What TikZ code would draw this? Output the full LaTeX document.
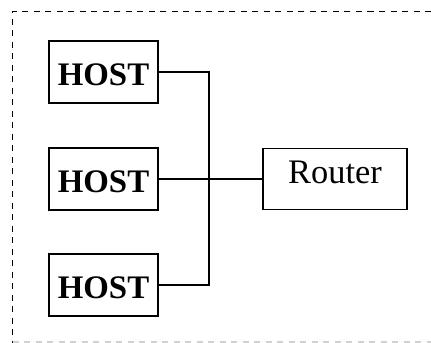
\documentclass[tikz,border=0pt]{standalone}
\usepackage{fontspec}
\setmainfont{Liberation Serif}
\begin{document}
\begin{tikzpicture}[x=1bp,y=-1bp,
  hostbox/.style={draw=black,line width=1.4bp,minimum width=109bp,minimum height=62bp,inner sep=0pt,
    font=\fontsize{33}{36}\selectfont\bfseries,text height=27.2bp,text depth=0bp},
  routerbox/.style={draw=black,line width=1.4bp,minimum width=144bp,minimum height=61bp,inner sep=0pt,
    font=\fontsize{34.5}{38}\selectfont,text height=8bp,text depth=0bp},
  wire/.style={draw=black,line width=1.2bp}]
\useasboundingbox (0,0) rectangle (431,343);
\draw[line width=1.8bp,draw=black,dash pattern=on 6bp off 5.5bp] (431,11.5) -- (12.5,11.5) -- (12.5,343);
\draw[line width=1.3bp,draw=black!18,dash pattern=on 6bp off 5.5bp] (12.5,342) -- (431,342);
\node[hostbox] (h1) at (103.5,72) {HOST};
\node[hostbox] (h2) at (103.5,179) {HOST};
\node[hostbox] (h3) at (103.5,285) {HOST};
\node[routerbox] (r) at (335,179) {Router};
\coordinate (bus) at (209,179);
\draw[wire] (h1.east) -| (bus);
\draw[wire] (h3.east) -| (bus);
\draw[wire] (h2.east) -- (r.west);
\end{tikzpicture}
\end{document}
